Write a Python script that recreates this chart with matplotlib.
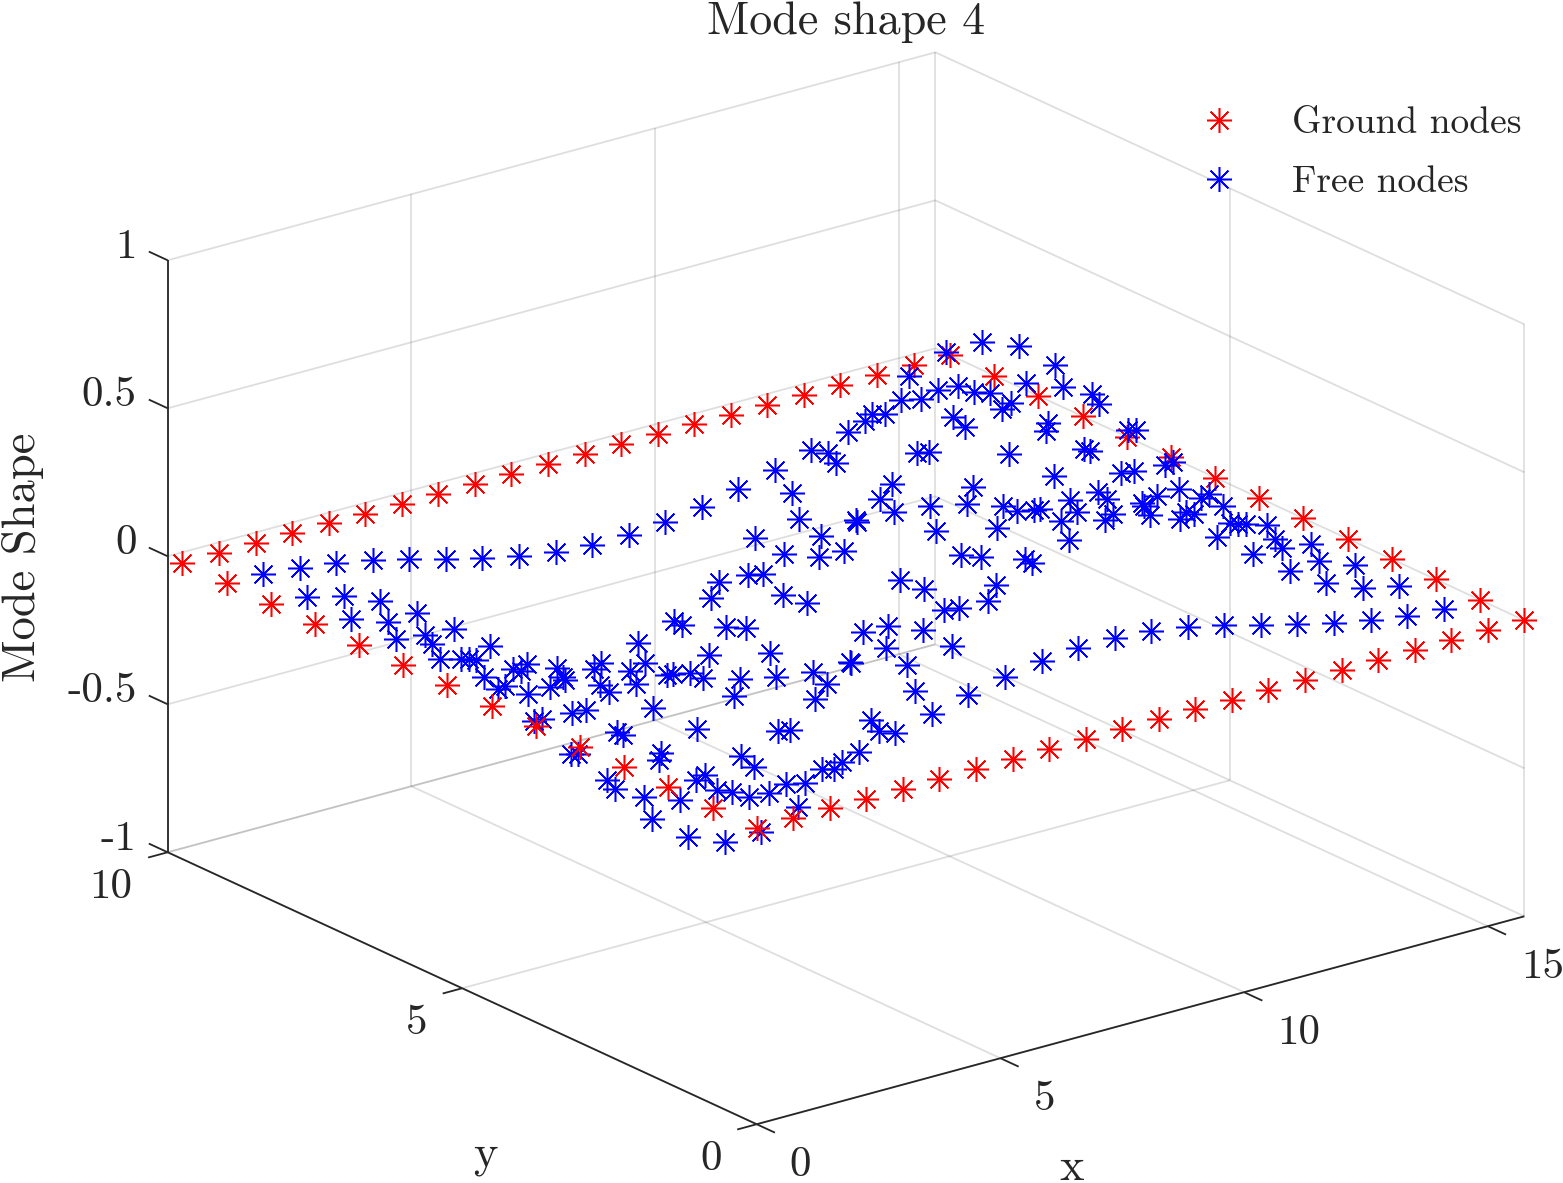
# -*- coding: utf-8 -*-
import numpy as np
import matplotlib
matplotlib.use('Agg')
import matplotlib.pyplot as plt
from mpl_toolkits.mplot3d import proj3d

plt.rcParams['font.family'] = ['cmr10', 'DejaVu Sans']
plt.rcParams['axes.formatter.use_mathtext'] = True

# Mesh node positions
grid_x = [0, 0.75, 1.5, 2.25, 3, 3.75, 4.5, 5.25, 6, 6.75, 7.5,
          8.25, 9, 9.75, 10.5, 11.25, 12, 12.75, 13.5, 14.25, 15, 15.75]
grid_y = [0, 0.75, 1.5, 2.25, 3, 3.75, 4.5, 5.25, 6, 6.75, 7.5, 8.25, 9, 9.75]

# Mode shape of the free nodes, one row per interior y
free_z = [
    [.003, .013, .031, .056, .085, .117, .148, .175, .195, .205,
     .205, .195, .175, .148, .117, .085, .056, .031, .013, .003],
    [.010, .039, .090, .164, .252, .344, .437, .516, .574, .604,
     .604, .574, .516, .437, .344, .252, .164, .090, .039, .010],
    [.015, .060, .138, .252, .387, .528, .671, .793, .883, .928,
     .928, .883, .793, .671, .528, .387, .252, .138, .060, .015],
    [.016, .065, .149, .272, .417, .569, .723, .855, .951, 1.00,
     1.00, .951, .855, .723, .569, .417, .272, .149, .065, .016],
    [.012, .050, .114, .209, .320, .436, .555, .656, .729, .767,
     .767, .729, .656, .555, .436, .320, .209, .114, .050, .012],
    [.005, .019, .043, .078, .120, .164, .208, .246, .274, .288,
     .288, .274, .246, .208, .164, .120, .078, .043, .019, .005],
    [-.005, -.019, -.043, -.078, -.120, -.164, -.208, -.246, -.274, -.288,
     -.288, -.274, -.246, -.208, -.164, -.120, -.078, -.043, -.019, -.005],
    [-.012, -.050, -.114, -.209, -.320, -.436, -.555, -.656, -.729, -.767,
     -.767, -.729, -.656, -.555, -.436, -.320, -.209, -.114, -.050, -.012],
    [-.016, -.065, -.149, -.272, -.417, -.569, -.723, -.855, -.951, -1.00,
     -1.00, -.951, -.855, -.723, -.569, -.417, -.272, -.149, -.065, -.016],
    [-.015, -.060, -.138, -.252, -.387, -.528, -.671, -.793, -.883, -.928,
     -.928, -.883, -.793, -.671, -.528, -.387, -.252, -.138, -.060, -.015],
    [-.010, -.039, -.090, -.164, -.252, -.344, -.437, -.516, -.574, -.604,
     -.604, -.574, -.516, -.437, -.344, -.252, -.164, -.090, -.039, -.010],
    [-.003, -.013, -.031, -.056, -.085, -.117, -.148, -.175, -.195, -.205,
     -.205, -.195, -.175, -.148, -.117, -.085, -.056, -.031, -.013, -.003],
]
ground_level = 0.0

x_ticks = [0, 5, 10, 15]
y_ticks = [0, 5, 10]
z_ticks = [-1, -0.5, 0, 0.5, 1]
x_labels = ['0', '5', '10', '15']
y_labels = ['0', '5', '10']
z_labels = ['-1', '-0.5', '0', '0.5', '1']

xmax = 15.75
ymax = 10
zmin = -1
zmax = 1

W, H = 1563, 1183
tick_fs = 31
label_fs = 33.5
title_fs = 33.2
legend_fs = 27
dark = '#262626'

fig = plt.figure(figsize=(W / 100, H / 100), dpi=100, facecolor='white')

# square axes, mplot3d puts the view origin at 0.5135 of its width and height
S = 1463.9
cx, cy = 846.0, 588.3
off = 0.5135 * S
ax = fig.add_axes([(cx - off) / W, (H - cy - off) / H, S / W, S / H],
                  projection='3d', computed_zorder=False)
ax.set_proj_type('ortho')
ax.view_init(elev=20.71, azim=-127.45, roll=0)
ax.set_box_aspect((967, 968.7, 632.9))
ax.set_xlim(0, xmax, view_margin=0)
ax.set_ylim(0, ymax, view_margin=0)
ax.set_zlim(zmin, zmax, view_margin=0)
ax.set_axis_off()
fig.canvas.draw()
proj = ax.get_proj()


def seg(p, q, color=dark, lw=1.3, alpha=1.0, z=1):
    ax.plot3D([p[0], q[0]], [p[1], q[1]], [p[2], q[2]], color=color, lw=lw,
              alpha=alpha, zorder=z, solid_capstyle='butt')


def tick_text(x, y, z, lab, ha):
    # project first so the label is an ordinary 2D text
    xp, yp, _ = proj3d.proj_transform(x, y, z, proj)
    ax.text2D(xp, yp, lab, transform=ax.transData, fontsize=tick_fs, color=dark,
              ha=ha, va='center', clip_on=False)


# Grid lines on the floor and the two back walls
for t in x_ticks:
    seg((t, 0, zmin), (t, ymax, zmin), alpha=0.15)
    seg((t, ymax, zmin), (t, ymax, zmax), alpha=0.15)
for t in y_ticks:
    seg((0, t, zmin), (xmax, t, zmin), alpha=0.15)
    seg((xmax, t, zmin), (xmax, t, zmax), alpha=0.15)
for t in z_ticks:
    seg((0, ymax, t), (xmax, ymax, t), alpha=0.15)
    seg((xmax, 0, t), (xmax, ymax, t), alpha=0.15)

# Axis lines and ticks
seg((0, ymax, zmin), (0, ymax, zmax), lw=1.3, z=2)
seg((0, 0, zmin), (0, ymax, zmin), lw=1.3, z=2)
seg((0, 0, zmin), (xmax, 0, zmin), lw=1.3, z=2)
for t, lab in zip(z_ticks, z_labels):
    seg((0, ymax, t), (0, ymax + 0.32, t), lw=1.3, z=2)
    tick_text(0, ymax + 0.53, t - 0.006, lab, 'right')
for t, lab in zip(y_ticks, y_labels):
    seg((0, t, zmin), (-0.4, t, zmin), lw=1.3, z=2)
    tick_text(-0.72, t, -1.087, lab, 'right')
for t, lab in zip(x_ticks, x_labels):
    seg((t, 0, zmin), (t, -0.31, zmin), lw=1.3, z=2)
    tick_text(t, -0.56, -1.086, lab, 'left')

# Nodes
gx, gy = np.meshgrid(grid_x, grid_y)
edge = (gx == 0) | (gx == grid_x[-1]) | (gy == 0) | (gy == grid_y[-1])
near = edge & ((gx == 0) | (gy == 0))
far = edge & ~near
fx, fy = np.meshgrid(grid_x[1:-1], grid_y[1:-1])
fz = np.array(free_z)

style = dict(linestyle='none', marker=(8, 2, 0), markersize=18, markeredgewidth=1.1)
ground_far, = ax.plot3D(gx[far], gy[far], np.full(far.sum(), ground_level), color='#ff0000',
                        zorder=3, label='Ground nodes', **style)
free, = ax.plot3D(fx.ravel(), fy.ravel(), fz.ravel(), color='#0000ff',
                  zorder=4, label='Free nodes', **style)
ax.plot3D(gx[near], gy[near], np.full(near.sum(), ground_level), color='#ff0000',
          zorder=5, **style)

ax.legend(handles=[ground_far, free], loc='upper left', frameon=False, numpoints=1,
          bbox_to_anchor=(1181 / W, 1 - 107 / H), bbox_transform=fig.transFigure,
          fontsize=legend_fs, labelcolor=dark, borderpad=0, borderaxespad=0,
          handlelength=2, handletextpad=0.97, labelspacing=0.67)

fig.text(846 / W, 1 - 22 / H, 'Mode shape 4', fontsize=title_fs, color=dark, ha='center', va='center')
fig.text(23 / W, 1 - 557 / H, 'Mode Shape', fontsize=label_fs, color=dark, rotation=90,
         ha='center', va='center')
fig.text(1072 / W, 1 - 1168 / H, 'x', fontsize=label_fs, color=dark, ha='center', va='center')
fig.text(485 / W, 1 - 1155 / H, 'y', fontsize=label_fs, color=dark, ha='center', va='center')

fig.savefig('out.png', dpi=100, facecolor='white')
